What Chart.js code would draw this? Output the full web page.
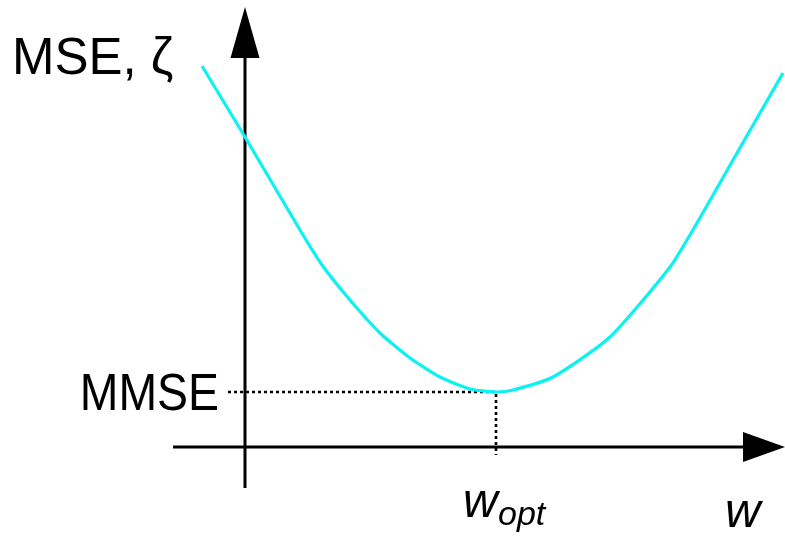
<!DOCTYPE html>
<html>
<head>
<meta charset="utf-8">
<script src="https://cdn.jsdelivr.net/npm/chart.js@4.4.1/dist/chart.umd.min.js"></script>
<style>
  html, body { margin: 0; padding: 0; background: #fff; }
  #grafica { display: block; }
</style>
</head>
<body>
<canvas id="grafica" width="785" height="538"></canvas>
<script>
// curva del error cuadratico medio
const pesos = [-1.72, 0, 2.2, 3.08, 4.2, 5.4, 6.6, 7.8, 9.0, 10.04, 10.72, 12.32, 14.6, 17.0, 18.08, 19.52, 21.52];
const mse = [15.24, 12.4, 8.68, 7.28, 5.88, 4.56, 3.56, 2.8, 2.32, 2.2, 2.28, 2.8, 4.4, 7.2, 8.96, 11.48, 14.96];

const wOpt = 10.04;
const mmse = 2.2;

// ejes
const ejeX = [-2.88, 19.92];
const ejeY = [-1.64, 15.56];
const puntaX = 21.6;
const puntaY = 17.6;

const etiquetaY = "MSE, \u03b6";
const etiquetaMin = "MMSE";
const etiquetaX = "w";

let puntosCurva = pesos.map((w, i) => ({ x: w, y: mse[i] }));

const flechas = {
    id: "flechas",
    afterDatasetsDraw(chart) {
        const ctx = chart.ctx;
        const sx = chart.scales.x;
        const sy = chart.scales.y;
        ctx.save();
        ctx.fillStyle = "#000";

        // flecha horizontal
        let baseX = sx.getPixelForValue(ejeX[1]);
        let tipX = sx.getPixelForValue(puntaX);
        let y0 = sy.getPixelForValue(0);
        ctx.beginPath();
        ctx.moveTo(baseX, y0 - 15);
        ctx.lineTo(tipX, y0);
        ctx.lineTo(baseX, y0 + 15);
        ctx.closePath();
        ctx.fill();

        // flecha vertical
        let x0 = sx.getPixelForValue(0);
        let baseY = sy.getPixelForValue(ejeY[1]);
        let tipY = sy.getPixelForValue(puntaY);
        ctx.beginPath();
        ctx.moveTo(x0 - 14.5, baseY);
        ctx.lineTo(x0, tipY);
        ctx.lineTo(x0 + 14.5, baseY);
        ctx.closePath();
        ctx.fill();
        ctx.restore();
    },
    afterDraw(chart) {
        const ctx = chart.ctx;
        const sx = chart.scales.x;
        const sy = chart.scales.y;
        ctx.save();
        ctx.fillStyle = "#000";
        ctx.textBaseline = "alphabetic";

        ctx.font = "51px 'Liberation Sans', Arial, sans-serif";
        ctx.textAlign = "left";
        ctx.fillText(etiquetaY, 12, 74);

        // MMSE un poco mas estrecho, como en el original
        let xm = sx.getPixelForValue(0) - 26;
        let ym = sy.getPixelForValue(mmse) + 18;
        ctx.save();
        ctx.translate(xm, ym);
        ctx.scale(0.91, 1);
        ctx.textAlign = "right";
        ctx.fillText(etiquetaMin, 0, 0);
        ctx.restore();

        // w_opt con subindice
        let xo = sx.getPixelForValue(wOpt);
        ctx.textAlign = "left";
        ctx.font = "italic 48px 'Liberation Sans', Arial, sans-serif";
        ctx.fillText("w", xo - 33, 517);
        ctx.font = "italic 34px 'Liberation Sans', Arial, sans-serif";
        ctx.fillText("opt", xo + 2, 525);

        ctx.font = "italic 49px 'Liberation Sans', Arial, sans-serif";
        ctx.fillText(etiquetaX, 725, 527);
        ctx.restore();
    }
};

new Chart(document.getElementById("grafica"), {
    type: "scatter",
    data: {
        datasets: [
            {
                data: puntosCurva,
                showLine: true,
                borderColor: "#0af2f2",
                borderWidth: 3.2,
                pointRadius: 0,
                tension: 0.2
            },
            {
                data: [{ x: -0.68, y: mmse }, { x: wOpt, y: mmse }, { x: wOpt, y: -0.32 }],
                showLine: true,
                borderColor: "#000",
                borderWidth: 2.6,
                borderDash: [3, 3],
                pointRadius: 0
            },
            {
                data: [{ x: ejeX[0], y: 0 }, { x: ejeX[1], y: 0 }],
                showLine: true,
                borderColor: "#000",
                borderWidth: 3,
                pointRadius: 0
            },
            {
                data: [{ x: 0, y: ejeY[0] }, { x: 0, y: ejeY[1] }],
                showLine: true,
                borderColor: "#000",
                borderWidth: 3,
                pointRadius: 0
            }
        ]
    },
    options: {
        responsive: false,
        animation: false,
        layout: { padding: 0 },
        plugins: {
            legend: { display: false },
            tooltip: { enabled: false }
        },
        scales: {
            x: { type: "linear", min: -9.8, max: 21.6, display: false },
            y: { type: "linear", min: -3.64, max: 17.88, display: false }
        }
    },
    plugins: [flechas]
});
</script>
</body>
</html>
